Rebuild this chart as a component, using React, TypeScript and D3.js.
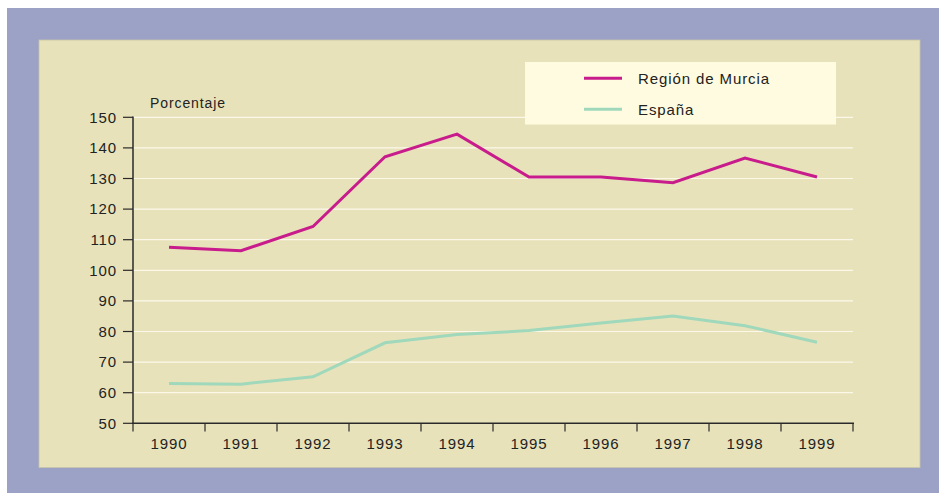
import React from 'react';
import * as d3 from 'd3';

// datos
const years = ['1990', '1991', '1992', '1993', '1994', '1995', '1996', '1997', '1998', '1999'];
const murcia = [107.5, 106.4, 114.3, 137.1, 144.5, 130.5, 130.5, 128.6, 136.7, 130.5];
const espana = [63.0, 62.8, 65.2, 76.3, 79.0, 80.3, 82.8, 85.1, 81.9, 76.5];
const yTicks = [50, 60, 70, 80, 90, 100, 110, 120, 130, 140, 150];
const seriesNames = ['Región de Murcia', 'España'];

const W = 939;
const H = 493;
const FONT = 'Liberation Sans, Arial, Helvetica, sans-serif';
const LS = 0.9;

const App = () => {
  const x = d3.scaleBand().domain(years).range([133, 853]);
  const y = d3.scaleLinear().domain([50, 150]).range([423.3, 117.3]);

  const line = d3.line<number>()
    .x((d, i) => (x(years[i]) as number) + x.bandwidth() / 2)
    .y(d => y(d));

  const colors = ['#c81b8c', '#a0d8bc'];
  const series = [murcia, espana];

  return (
    <svg width={W} height={H} style={{ position: 'absolute', left: 0, top: 0 }} fontFamily={FONT}>
      <rect x={0} y={0} width={W} height={H} fill="#fff" />
      <rect x={7} y={8} width={W - 7} height={H - 8} fill="#9ca1c6" />
      <rect x={39} y={40} width={881} height={427.5} fill="#e8e2ba" stroke="#c9c6a6" strokeWidth={0.8} />

      {/* líneas de rejilla */}
      {yTicks.slice(1).map(t => (
        <line key={t} x1={133} x2={853} y1={y(t)} y2={y(t)} stroke="#fbf8ea" strokeWidth={1.2} />
      ))}

      {/* leyenda */}
      <rect x={525} y={62} width={311} height={62.5} fill="#fffbe0" />
      {seriesNames.map((n, i) => (
        <g key={n}>
          <line x1={584} x2={622} y1={78.3 + i * 31} y2={78.3 + i * 31} stroke={colors[i]} strokeWidth={3} />
          <text x={638} y={84 + i * 31} fontSize={15} letterSpacing={LS} fill="#222">{n}</text>
        </g>
      ))}

      {/* series */}
      {series.map((s, i) => (
        <path key={i} d={line(s) || ''} fill="none" stroke={colors[i]} strokeWidth={3} strokeLinejoin="miter" />
      ))}

      {/* eje y */}
      <line x1={133} x2={133} y1={116.5} y2={424} stroke="#2a2a2a" strokeWidth={1.5} />
      {yTicks.map(t => (
        <g key={t}>
          <line x1={123} x2={133} y1={y(t)} y2={y(t)} stroke="#2a2a2a" strokeWidth={1.2} />
          <text x={117} y={y(t) + 5.3} textAnchor="end" fontSize={15} letterSpacing={LS} fill="#222">{t}</text>
        </g>
      ))}
      <text x={150} y={108} fontSize={14} letterSpacing={LS} fill="#222">Porcentaje</text>

      {/* eje x */}
      <line x1={132.5} x2={854} y1={423.3} y2={423.3} stroke="#2a2a2a" strokeWidth={1.5} />
      {years.concat(['end']).map((yr, i) => {
        const xp = 133 + i * x.step();
        return <line key={yr} x1={xp} x2={xp} y1={423} y2={431.5} stroke="#2a2a2a" strokeWidth={1.2} />;
      })}
      {years.map(yr => (
        <text key={yr} x={(x(yr) as number) + x.bandwidth() / 2} y={448.5} textAnchor="middle" fontSize={15} letterSpacing={LS} fill="#222">{yr}</text>
      ))}
    </svg>
  );
};

export default App;
